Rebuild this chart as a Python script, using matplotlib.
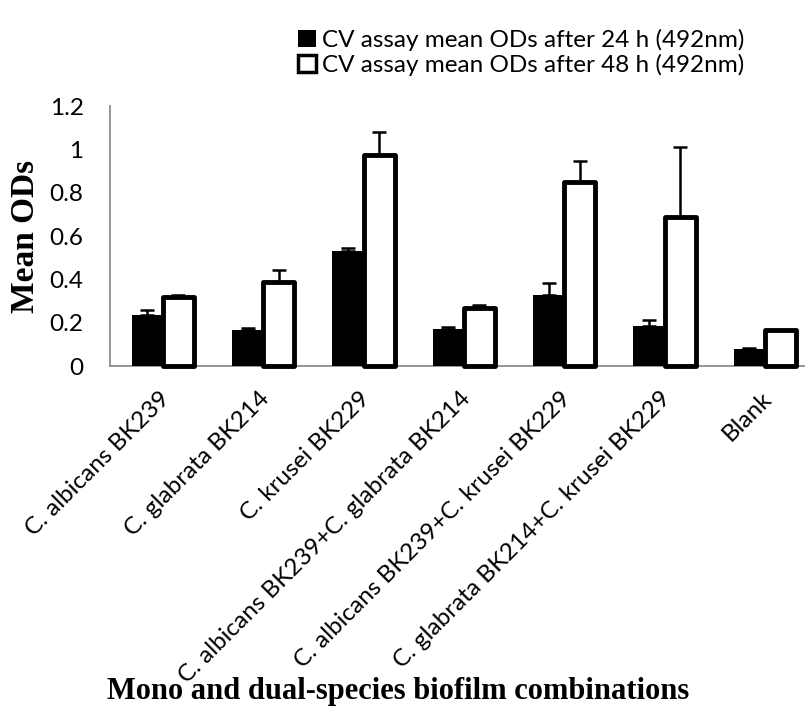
import matplotlib.pyplot as plt
import matplotlib.transforms as mtransforms
import numpy as np
from matplotlib.patches import Patch

# biofilm combinations on the x axis
categories = ['C. albicans BK239', 'C. glabrata BK214', 'C. krusei BK229',
              'C. albicans BK239+C. glabrata BK214',
              'C. albicans BK239+C. krusei BK229',
              'C. glabrata BK214+C. krusei BK229', 'Blank']

# mean ODs (492nm) and their errors
od_24h = [0.235, 0.165, 0.53, 0.17, 0.33, 0.185, 0.08]
err_24h = [0.025, 0.01, 0.015, 0.012, 0.055, 0.03, 0.005]
od_48h = [0.32, 0.39, 0.975, 0.27, 0.85, 0.69, 0.165]
err_48h = [0.01, 0.055, 0.105, 0.012, 0.095, 0.32, 0.0]

yticks = [0, 0.2, 0.4, 0.6, 0.8, 1, 1.2]
ytick_labels = ['0', '0.2', '0.4', '0.6', '0.8', '1', '1.2']

tick_font = 'Lato'
serif = 'Liberation Serif'
fs = 17.5

fig = plt.figure(figsize=(8.05, 7.07), dpi=100)
ax = fig.add_axes([0.1366, 0.482, 0.8634, 0.368])

x = np.arange(len(categories))
w = 0.31

ax.bar(x - w / 2, od_24h, w, color='black', edgecolor='black', linewidth=0, zorder=3)
ax.errorbar(x - w / 2, od_24h, yerr=[np.zeros(len(x)), err_24h], fmt='none',
            ecolor='black', elinewidth=1.8, capsize=5, capthick=1.8, zorder=4)

bars48 = ax.bar(x + w / 2, od_48h, w, color='white', edgecolor='black', linewidth=3.5,
                zorder=3)
for b in bars48:
    b.set_joinstyle('round')
    b.set_clip_on(False)
ax.errorbar(x + w / 2, od_48h, yerr=[np.zeros(len(x)), err_48h], fmt='none',
            ecolor='black', elinewidth=1.8, capsize=5, capthick=1.8, zorder=4)

ax.set_xlim(-0.528, 6.4)
ax.set_ylim(0, 1.2)
ax.set_yticks(yticks)
ax.set_yticklabels(ytick_labels, fontfamily=tick_font, fontsize=fs)
ax.set_xticks(x)
ax.set_xticklabels(categories, rotation=45, ha='right', va='center', rotation_mode='anchor',
                   fontfamily=tick_font, fontsize=fs)
ax.tick_params(length=0)
ax.tick_params(axis='y', pad=19)
ax.tick_params(axis='x', pad=21)

# nudge the slanted labels a little to the right
shift = mtransforms.ScaledTranslation(0.03, 0, fig.dpi_scale_trans)
for lbl in ax.get_xticklabels():
    lbl.set_transform(lbl.get_transform() + shift)

for s in ['top', 'right']:
    ax.spines[s].set_visible(False)
for s in ['left', 'bottom']:
    ax.spines[s].set_color('#8c8c8c')
    ax.spines[s].set_linewidth(1.3)
    ax.spines[s].set_zorder(2)

ax.set_ylabel('Mean ODs', fontfamily=serif, fontweight='bold', fontsize=24, labelpad=6)
fig.text(0.494, 0.012, 'Mono and dual-species biofilm combinations', ha='center',
         fontfamily=serif, fontweight='bold', fontsize=22)

handles = [Patch(facecolor='black', edgecolor='black', linewidth=0),
           Patch(facecolor='white', edgecolor='black', linewidth=2.5, joinstyle='round')]
labels = ['CV assay mean ODs after 24 h (492nm)', 'CV assay mean ODs after 48 h (492nm)']
fig.legend(handles, labels, loc='upper left', bbox_to_anchor=(0.358, 0.973), frameon=False,
           prop={'family': tick_font, 'size': fs}, handlelength=0.75, handleheight=0.75,
           handletextpad=0.25, labelspacing=0.12, borderaxespad=0)

fig.savefig('out.png', dpi=100)
plt.close()
